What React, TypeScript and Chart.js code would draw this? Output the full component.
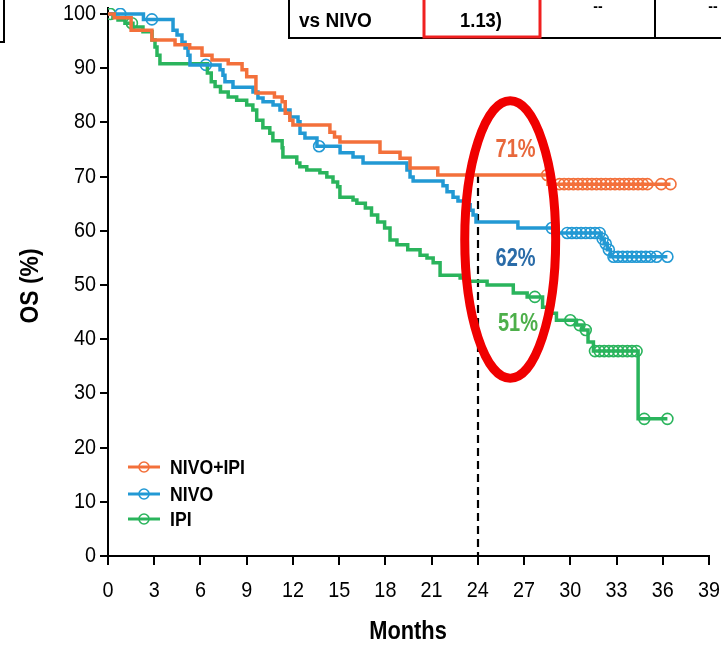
import React, { useEffect, useRef } from 'react';
import { Chart, registerables } from 'chart.js';

Chart.register(...registerables);

// ---------- data ----------
const seriesNames = ['NIVO+IPI', 'NIVO', 'IPI'];
const seriesColors = ['#F3703B', '#2299D4', '#2AB45C'];

const nivoIpiMonths = [0, 0.4, 1.5, 2.85, 4.35, 5.3, 6.1, 6.75, 7.8, 8.7, 9.0, 9.6, 10.8, 11.3, 11.5, 11.8, 12.0, 14.4, 14.7, 15.05, 17.65, 18.95, 19.6, 21.4, 28.55, 36.5];
const nivoIpiOS = [100, 99.3, 97.0, 95.2, 94.3, 93.7, 92.4, 91.5, 90.8, 89.7, 88.4, 85.4, 84.7, 83.8, 81.7, 80.4, 79.5, 78.2, 77.3, 76.4, 74.5, 73.4, 71.6, 70.3, 68.6, 68.6];
const nivoIpiCensored = [28.5, 29.3, 29.6, 29.9, 30.2, 30.5, 30.8, 31.1, 31.4, 31.7, 32.0, 32.3, 32.6, 32.9, 33.2, 33.5, 33.8, 34.1, 34.4, 34.7, 35.0, 35.9, 36.5];

const nivoMonths = [0, 2.3, 4.22, 4.48, 4.8, 5.0, 5.19, 5.32, 7.27, 7.46, 7.59, 8.11, 9.41, 9.73, 10.06, 10.71, 11.16, 11.81, 12.33, 12.46, 12.78, 13.56, 15.06, 15.9, 16.55, 19.4, 19.6, 19.8, 21.74, 22.0, 22.39, 22.71, 23.3, 23.5, 23.69, 23.88, 26.6, 28.88, 32.0, 32.2, 32.4, 32.6, 36.3];
const nivoOS = [100, 99.0, 97.0, 96.1, 94.8, 93.7, 92.4, 90.6, 89.7, 88.7, 87.5, 86.5, 85.6, 84.5, 83.8, 83.2, 82.3, 81.0, 80.1, 78.0, 77.1, 75.6, 74.4, 73.6, 72.5, 71.2, 69.9, 69.2, 68.3, 67.2, 66.2, 65.5, 64.8, 63.8, 62.9, 61.6, 60.5, 59.6, 58.5, 57.6, 56.5, 55.2, 55.2];
const nivoCensored = [0.8, 2.85, 6.35, 13.7, 28.8, 29.8, 30.1, 30.4, 30.7, 31.0, 31.3, 31.6, 31.9, 32.1, 32.3, 32.5, 32.8, 33.1, 33.4, 33.7, 34.0, 34.3, 34.6, 34.9, 35.2, 35.6, 36.3];

const ipiMonths = [0, 0.32, 0.65, 1.1, 1.62, 2.27, 2.86, 3.05, 3.18, 3.37, 6.45, 6.7, 6.95, 7.3, 7.8, 8.35, 9.0, 9.4, 9.65, 10.05, 10.5, 10.7, 11.3, 11.35, 12.25, 12.45, 12.9, 13.75, 14.2, 14.6, 14.9, 15.05, 15.9, 16.15, 16.7, 17.1, 17.5, 17.95, 18.3, 18.75, 19.45, 20.25, 20.7, 21.1, 21.55, 22.85, 23.3, 24.6, 26.3, 27.2, 28.2, 28.5, 29.1, 30.4, 30.8, 31.15, 31.5, 34.4, 36.3];
const ipiOS = [100, 99.4, 98.9, 98.3, 97.6, 96.7, 95.2, 93.9, 92.4, 90.8, 89.1, 87.5, 86.6, 85.6, 84.7, 84.1, 83.2, 82.3, 80.4, 79.0, 78.0, 76.6, 75.3, 73.6, 72.5, 71.8, 71.2, 70.7, 69.9, 69.0, 68.1, 66.2, 65.7, 65.1, 64.2, 62.9, 61.6, 60.5, 58.3, 57.4, 56.5, 55.5, 55.0, 54.1, 51.8, 51.3, 50.7, 50.0, 48.5, 47.8, 45.9, 44.8, 43.5, 42.6, 41.7, 39.5, 37.8, 25.3, 25.3];
const ipiCensored = [0.15, 1.55, 27.7, 30.0, 30.6, 31.0, 31.6, 31.9, 32.2, 32.5, 32.8, 33.1, 33.4, 33.7, 34.0, 34.3, 34.8, 36.3];

const xTicks = [0, 3, 6, 9, 12, 15, 18, 21, 24, 27, 30, 33, 36, 39];
const yTicks = [0, 10, 20, 30, 40, 50, 60, 70, 80, 90, 100];

const landmarkMonth = 24;
const landmarkLabels = ['71%', '62%', '51%'];
const labelColors = ['#E8683C', '#2B6CA8', '#4DAF4A'];

const FAMILY = '"Liberation Sans", Arial, Helvetica, sans-serif';

function survAt(times: number[], vals: number[], t: number) {
  let v = vals[0];
  for (let i = 0; i < times.length; i++) if (times[i] <= t) v = vals[i];
  return v;
}

const curves = [
  { t: nivoIpiMonths, s: nivoIpiOS, c: nivoIpiCensored },
  { t: nivoMonths, s: nivoOS, c: nivoCensored },
  { t: ipiMonths, s: ipiOS, c: ipiCensored },
];

function drawText(ctx: CanvasRenderingContext2D, text: string, x: number, y: number, size: number, bold: boolean, align: CanvasTextAlign, color: string, sx: number, rot = 0) {
  ctx.save();
  ctx.font = `${bold ? 'bold ' : ''}${size}px ${FAMILY}`;
  ctx.fillStyle = color;
  ctx.textBaseline = 'middle';
  ctx.textAlign = align;
  ctx.translate(x, y);
  if (rot) ctx.rotate(rot);
  ctx.scale(sx, 1);
  ctx.fillText(text, 0, 0);
  ctx.restore();
}

export default function App() {
  const ref = useRef<HTMLCanvasElement | null>(null);

  useEffect(() => {
    document.body.style.margin = '0';
    const canvas = ref.current!;
    const datasets: any[] = [];
    curves.forEach((cv, i) => {
      datasets.push({
        type: 'line',
        label: seriesNames[i],
        data: cv.t.map((t, k) => ({ x: t, y: cv.s[k] })),
        borderColor: seriesColors[i],
        borderWidth: 3.5,
        stepped: 'before',
        pointRadius: 0,
        fill: false,
      });
    });
    curves.forEach((cv, i) => {
      datasets.push({
        type: 'line',
        label: seriesNames[i] + ' censored',
        data: cv.c.map((t) => ({ x: t, y: survAt(cv.t, cv.s, t) })),
        showLine: false,
        pointRadius: 5.5,
        pointBorderWidth: 1.6,
        pointBorderColor: seriesColors[i],
        pointBackgroundColor: 'rgba(255,255,255,0)',
        borderColor: seriesColors[i],
      });
    });

    const overlay = {
      id: 'overlay',
      beforeDatasetsDraw(chart: any) {
        const ctx = chart.ctx;
        const xs = chart.scales.x;
        const ys = chart.scales.y;
        const x = Math.round(xs.getPixelForValue(landmarkMonth));
        const yTop = ys.getPixelForValue(survAt(nivoIpiMonths, nivoIpiOS, landmarkMonth));
        ctx.save();
        ctx.strokeStyle = '#000';
        ctx.lineWidth = 2.2;
        ctx.setLineDash([8, 5]);
        ctx.beginPath();
        ctx.moveTo(x, yTop);
        ctx.lineTo(x, ys.getPixelForValue(0));
        ctx.stroke();
        ctx.restore();
      },
      afterDatasetsDraw(chart: any) {
        const ctx = chart.ctx;
        const xs = chart.scales.x;
        const ys = chart.scales.y;
        ctx.save();
        // percentage labels
        const labelPos = [[26.45, 75.0], [26.45, 54.8], [26.6, 42.9]];
        landmarkLabels.forEach((lab, i) => {
          drawText(ctx, lab, xs.getPixelForValue(labelPos[i][0]), ys.getPixelForValue(labelPos[i][1]), 26, true, 'center', labelColors[i], 0.77);
        });
        // red ellipse
        const cx = xs.getPixelForValue(26.1);
        const cy = ys.getPixelForValue(58.4);
        const rx = xs.getPixelForValue(26.1 + 2.95) - cx;
        const ry = ys.getPixelForValue(58.4) - ys.getPixelForValue(58.4 + 25.6);
        ctx.strokeStyle = '#F00000';
        ctx.lineWidth = 9;
        ctx.beginPath();
        ctx.ellipse(cx, cy, rx, ry, 0, 0, Math.PI * 2);
        ctx.stroke();
        // legend
        const lx0 = 128, lx1 = 160, ly = [467, 494, 519];
        seriesNames.forEach((n, i) => {
          ctx.strokeStyle = seriesColors[i];
          ctx.lineWidth = 3;
          ctx.beginPath();
          ctx.moveTo(lx0, ly[i]);
          ctx.lineTo(lx1, ly[i]);
          ctx.stroke();
          ctx.lineWidth = 1.6;
          ctx.beginPath();
          ctx.arc((lx0 + lx1) / 2, ly[i], 5, 0, Math.PI * 2);
          ctx.stroke();
          drawText(ctx, n, 170, ly[i] + 1, 21, true, 'left', '#000', 0.84);
        });
        ctx.restore();
      },
      afterDraw(chart: any) {
        const ctx = chart.ctx;
        const xs = chart.scales.x;
        const ys = chart.scales.y;
        ctx.save();
        // tick labels
        xTicks.forEach((v) => drawText(ctx, String(v), xs.getPixelForValue(v), 591, 22, false, 'center', '#000', 0.9));
        yTicks.forEach((v) => drawText(ctx, String(v), 96, ys.getPixelForValue(v), 22, false, 'right', '#000', 0.9));
        // axis titles
        drawText(ctx, 'Months', 408, 632, 26, true, 'center', '#000', 0.84);
        drawText(ctx, 'OS (%)', 31, 286, 26, true, 'center', '#000', 0.88, -Math.PI / 2);
        // partial table at the top
        ctx.strokeStyle = '#000';
        ctx.lineWidth = 2;
        ctx.beginPath();
        ctx.moveTo(289, 0);
        ctx.lineTo(289, 38);
        ctx.lineTo(721, 38);
        ctx.moveTo(655, 0);
        ctx.lineTo(655, 38);
        ctx.moveTo(4, 0);
        ctx.lineTo(4, 42);
        ctx.lineTo(0, 42);
        ctx.stroke();
        ctx.strokeStyle = '#F02020';
        ctx.lineWidth = 3;
        ctx.strokeRect(424, -3, 116, 40);
        drawText(ctx, 'vs NIVO', 299, 21, 20, true, 'left', '#000', 0.95);
        drawText(ctx, '1.13)', 481, 21, 20, true, 'center', '#000', 0.92);
        drawText(ctx, '--', 598, 7, 14, true, 'center', '#000', 1);
        drawText(ctx, '--', 713, 7, 14, true, 'center', '#000', 1);
        ctx.restore();
      },
    };

    const chart = new Chart(canvas, {
      type: 'line',
      data: { datasets },
      options: {
        animation: false,
        responsive: false,
        devicePixelRatio: 1,
        layout: { padding: { left: 0, right: 12, top: 8, bottom: 0 } },
        plugins: { legend: { display: false }, tooltip: { enabled: false } },
        scales: {
          x: {
            type: 'linear',
            min: 0,
            max: 39,
            afterBuildTicks: (s: any) => { s.ticks = xTicks.map((v) => ({ value: v })); },
            afterFit: (s: any) => { s.height = 89; },
            ticks: { display: false },
            grid: { drawOnChartArea: false, drawTicks: true, tickLength: 9, color: '#000', lineWidth: 2 },
            border: { color: '#000', width: 2 },
          },
          y: {
            type: 'linear',
            min: 0,
            max: 101.1,
            afterBuildTicks: (s: any) => { s.ticks = yTicks.map((v) => ({ value: v })); },
            afterFit: (s: any) => { s.width = 108; },
            ticks: { display: false },
            grid: { drawOnChartArea: false, drawTicks: true, tickLength: 8, color: '#000', lineWidth: 2 },
            border: { color: '#000', width: 2 },
          },
        },
      },
      plugins: [overlay],
    } as any);
    return () => chart.destroy();
  }, []);

  return (
    <div style={{ width: 721, height: 645, position: 'relative', background: '#fff' }}>
      <canvas ref={ref} width={721} height={645} style={{ display: 'block' }} />
    </div>
  );
}
